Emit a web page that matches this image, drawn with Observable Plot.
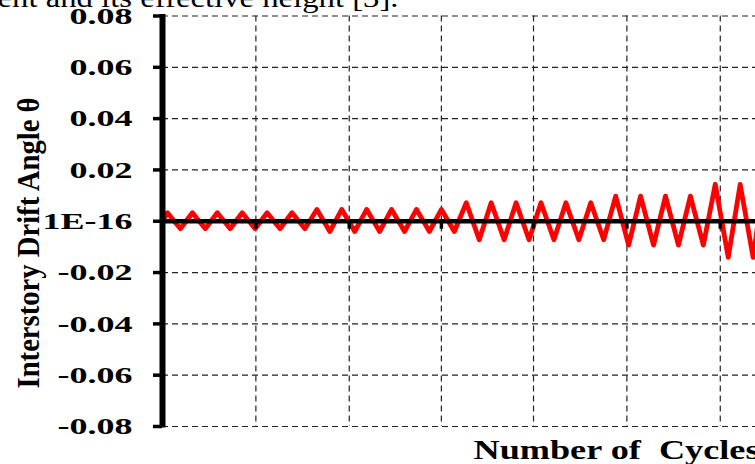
<!DOCTYPE html>
<html><head><meta charset="utf-8">
<script src="https://cdn.jsdelivr.net/npm/d3@7"></script>
<script src="https://cdn.jsdelivr.net/npm/@observablehq/plot@0.6"></script>
<style>
html,body{margin:0;padding:0;background:#fff;}
#chart{width:755px;height:464px;overflow:hidden;position:relative;}
#chart svg text{white-space:pre;}
</style></head><body><div id="chart"></div>
<script>
// ---- texts ----
const captionText = "ent and its effective height [3].";
const xTitle = "Number of  Cycles";
const yTitle = "Interstory Drift Angle \u03B8";

// ---- axis ticks ----
const yTicks = [-0.08, -0.06, -0.04, -0.02, 0, 0.02, 0.04, 0.06, 0.08];
const yTickLabels = ["-0.08", "-0.06", "-0.04", "-0.02", "1E-16", "0.02", "0.04", "0.06", "0.08"];
const xGridCycles = [3.75, 7.5, 11.2, 14.9, 18.65, 22.4];
const xDomain = [0, 23.815];

// ---- series: vertices of the cyclic drift history ----
const cycleVertex = [
  0,
  0.2, 0.72, 1.2, 1.72, 2.2, 2.72, 3.2, 3.72, 4.2, 4.72, 5.2, 5.72,
  6.2, 6.72, 7.2, 7.72, 8.2, 8.72, 9.2, 9.72, 10.2, 10.72, 11.2, 11.72,
  12.2, 12.72, 13.2, 13.72, 14.2, 14.72, 15.2, 15.72, 16.2, 16.72, 17.2, 17.72,
  18.2, 18.72, 19.2, 19.72, 20.2, 20.72, 21.2, 21.72,
  22.2, 22.72, 23.2, 23.72,
  24.2, 24.72
];
const driftAngle = [
  0,
  0.0033, -0.0029, 0.0033, -0.0029, 0.0033, -0.0029, 0.0033, -0.0029, 0.0033, -0.0029, 0.0033, -0.0029,
  0.0046, -0.0040, 0.0046, -0.0040, 0.0046, -0.0040, 0.0046, -0.0040, 0.0046, -0.0040, 0.0046, -0.0040,
  0.0072, -0.0072, 0.0072, -0.0072, 0.0072, -0.0072, 0.0072, -0.0072, 0.0072, -0.0072, 0.0072, -0.0072,
  0.0098, -0.0093, 0.0098, -0.0093, 0.0098, -0.0093, 0.0098, -0.0093,
  0.0144, -0.0141, 0.0144, -0.0141,
  0.019, -0.019
];

const series = cycleVertex.map((c, i) => ({cycle: c, drift: driftAngle[i]}));
const gridStyle = {stroke: "#222", strokeWidth: 1.2, strokeDasharray: "6,4"};

const chart = Plot.plot({
  width: 755,
  height: 464,
  marginLeft: 162,
  marginRight: 0,
  marginTop: 15.5,
  marginBottom: 38,
  style: {fontFamily: "'Liberation Serif', 'Times New Roman', serif", color: "#000", background: "#fff", overflow: "visible"},
  x: {domain: xDomain, axis: null},
  y: {domain: [-0.08, 0.08], axis: null},
  marks: [
    Plot.ruleY(yTicks, gridStyle),
    Plot.ruleX(xGridCycles, gridStyle),
    Plot.line(series, {x: "cycle", y: "drift", stroke: "#ff0000", strokeWidth: 4.8, strokeLinejoin: "round", clip: true}),
    Plot.ruleY([0], {stroke: "#000", strokeWidth: 4.7}),
    Plot.ruleX(xGridCycles, {y1: 0, y2: 0, insetBottom: -8, stroke: "#000", strokeWidth: 3.5}),
    Plot.ruleX([0], {stroke: "#000", strokeWidth: 6, insetTop: -1.5, insetBottom: -1.5}),
    Plot.axisY({
      anchor: "left", ticks: yTicks,
      tickFormat: d => yTickLabels[yTicks.indexOf(d)],
      tickSize: 9, tickPadding: 21, strokeWidth: 3.5,
      fontSize: 24, fontWeight: "bold", label: null
    }),
    Plot.text([yTitle], {frameAnchor: "left", textAnchor: "middle", lineAnchor: "middle", rotate: -90, dx: -134, dy: 21.75, fontSize: 28, fontWeight: "bold", fill: "#000"}),
    Plot.text([xTitle], {frameAnchor: "bottom-left", textAnchor: "start", lineAnchor: "middle", dx: 311, dy: 23.7, fontSize: 27, fontWeight: "bold", fill: "#000"}),
    Plot.text([captionText], {frameAnchor: "top-left", textAnchor: "start", lineAnchor: "middle", dx: -165, dy: -18, fontSize: 28, fill: "#000"})
  ]
});
document.getElementById("chart").append(chart);

const allTexts = Array.from(chart.querySelectorAll("text"));
function textOf(content) {
  return allTexts.find(t => t.textContent === content) || null;
}
function stretch(t, len) {
  if (!t) return;
  t.setAttribute("textLength", String(len));
  t.setAttribute("lengthAdjust", "spacingAndGlyphs");
}

// horizontal stretching of the texts, as in the reference picture
allTexts.filter(t => yTickLabels.includes(t.textContent)).forEach(t => {
  stretch(t, (t.getComputedTextLength() * 1.5).toFixed(1));
});
const yt = textOf(yTitle);
if (yt) {
  stretch(yt, 291);
  yt.setAttribute("transform", (yt.getAttribute("transform") || "") + " scale(1,1.15)");
}
stretch(textOf(xTitle), 286);
stretch(textOf(captionText), 401);
</script>
</body></html>
